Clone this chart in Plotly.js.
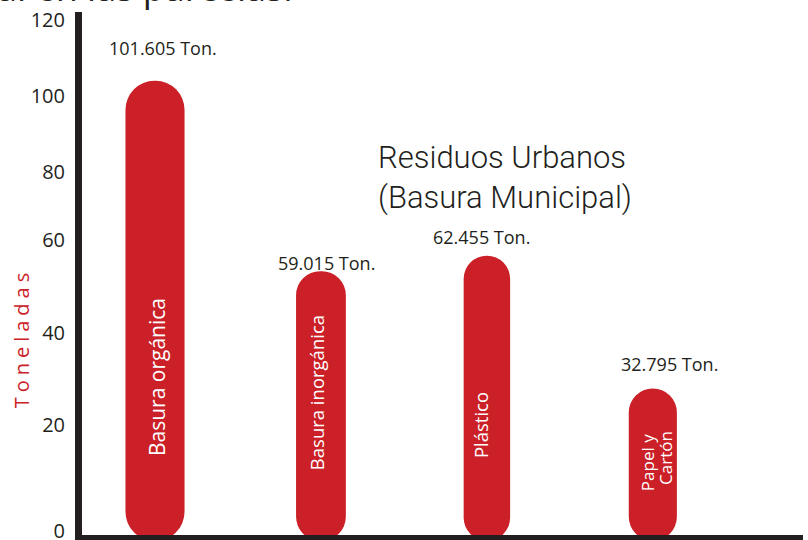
<!DOCTYPE html>
<html><head><meta charset="utf-8">
<script src="https://cdn.plot.ly/plotly-3.0.1.min.js"></script>
<style>html,body{margin:0;padding:0;background:#fff}#chart{width:808px;height:540px}</style>
</head><body><div id="chart"></div>
<script>
// ---- data ----
const categories = ['Basura orgánica', 'Basura inorgánica', 'Plástico', 'Papel y Cartón'];
const barLabels = ['Basura orgánica', 'Basura inorgánica', 'Plástico', 'Papel y<br>Cartón'];
const tonnes = [101.605, 59.015, 62.455, 32.795];
const valueLabels = ['101.605 Ton.', '59.015 Ton.', '62.455 Ton.', '32.795 Ton.'];
const tickLabels = ['0', '20', '40', '60', '80', '100', '120'];
const tickPos = [0.9, 24.6, 45.2, 66.0, 81.2, 98.2, 115.1];
const chartTitle = 'Residuos Urbanos<br>(Basura Municipal)';
const yTitle = 'Toneladas';
const topText = 'al en las parcelas.';

// ---- style ----
const RED = '#cb2027';
const INK = '#231f20';
const FONT = '"Open Sans", "Noto Sans", sans-serif';
const barWidths = [0.356, 0.30, 0.28, 0.29];
const bottomDepth = 1.3;   // the pill's rounded bottom sits just below the axis line
const valShiftX = [8, 6, -5, 17];
const valShiftY = [33, 8, 19, 24];
const nameY = [0.302, 0.273, 0.210, 0.147];
const nameShiftX = [2, -5, -7, 3];
const nameSize = [21, 18.5, 18.5, 17];
const lineGap = 18;        // px between the two lines of a rotated two-line label

const traces = [
  {
    type: 'bar', x: categories, y: tonnes.map(v => v + bottomDepth), base: -bottomDepth,
    width: barWidths, marker: {color: RED, cornerradius: '50%', line: {width: 0}},
    hoverinfo: 'skip', showlegend: false
  }
];

const annotations = [];
tonnes.forEach((v, i) => {
  annotations.push({
    x: categories[i], y: v, xref: 'x', yref: 'y', text: valueLabels[i], showarrow: false,
    xanchor: 'center', yanchor: 'middle', xshift: valShiftX[i], yshift: valShiftY[i],
    font: {family: FONT, size: 18, color: INK}
  });
  const parts = barLabels[i].split('<br>');
  parts.forEach((p, k) => {
    annotations.push({
      x: categories[i], y: nameY[i] + (parts.length > 1 ? (k === 0 ? -0.008 : 0.0) : 0),
      xref: 'x', yref: 'paper', text: p, showarrow: false,
      xanchor: 'center', yanchor: 'middle',
      xshift: nameShiftX[i] + (k - (parts.length - 1) / 2) * lineGap, textangle: -90,
      font: {family: FONT, size: nameSize[i], color: '#ffffff'}
    });
  });
});
annotations.push({
  x: 0.408, y: 0.683, xref: 'paper', yref: 'paper', text: chartTitle, showarrow: false,
  xanchor: 'left', yanchor: 'middle', align: 'left',
  font: {family: 'Roboto, sans-serif', size: 31, weight: 300, color: INK}
});
annotations.push({
  x: -0.0832, y: 0.377, xref: 'paper', yref: 'paper', text: yTitle, showarrow: false,
  xanchor: 'center', yanchor: 'middle', textangle: -90,
  font: {family: FONT, size: 20, color: RED}
});
annotations.push({
  x: 0.087, y: 1.0, yshift: 25, xref: 'paper', yref: 'paper', text: topText, showarrow: false,
  xanchor: 'center', yanchor: 'middle',
  font: {family: FONT, size: 36, color: INK}
});

const layout = {
  width: 808, height: 540, autosize: false,
  margin: {l: 82, r: 5, t: 12, b: 5, pad: 0},
  paper_bgcolor: '#ffffff', plot_bgcolor: '#ffffff',
  barmode: 'overlay', showlegend: false,
  xaxis: {
    type: 'category', range: [-0.44, 3.905], showticklabels: false, ticks: '',
    showline: true, linewidth: 7, linecolor: INK, showgrid: false, zeroline: false, fixedrange: true
  },
  yaxis: {
    range: [0, 117.0], tickmode: 'array', tickvals: tickPos, ticktext: tickLabels, ticks: '',
    tickfont: {family: FONT, size: 20, color: INK}, ticklabelstandoff: 6, ticklabeloverflow: 'allow',
    showline: true, linewidth: 7, linecolor: INK, showgrid: false, zeroline: false, fixedrange: true
  },
  annotations: annotations
};

Plotly.newPlot('chart', traces, layout, {staticPlot: true, displayModeBar: false}).then(() => {
  document.querySelectorAll('.annotation-text').forEach(t => {
    if (t.textContent === yTitle) t.style.letterSpacing = '5px';
  });
});
</script>
</body></html>
